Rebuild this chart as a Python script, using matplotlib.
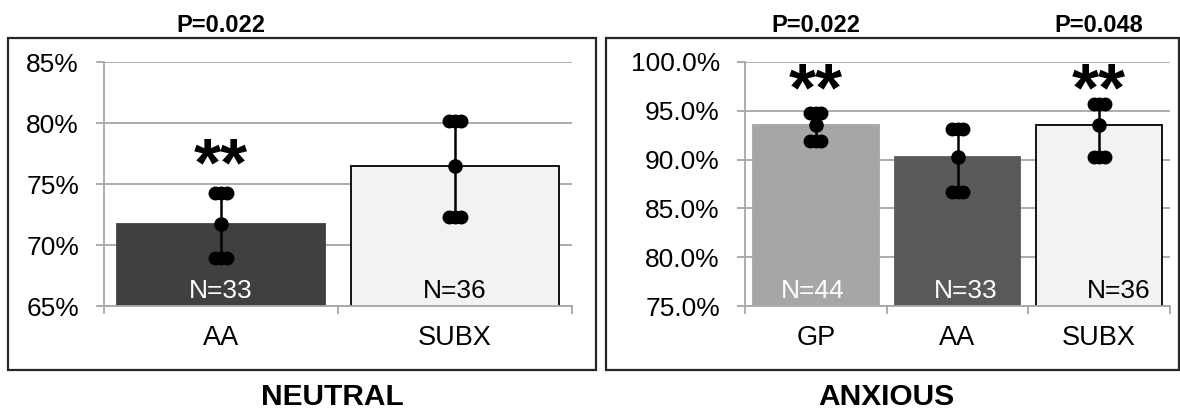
import numpy as np
import matplotlib
matplotlib.use("Agg")
import matplotlib.pyplot as plt
from matplotlib.patches import Rectangle
from matplotlib.ticker import FuncFormatter, FixedLocator
from matplotlib.transforms import ScaledTranslation, blended_transform_factory

# --- data ---
neutral_groups = ["AA", "SUBX"]
neutral_means = [71.7, 76.5]
neutral_lo = [68.9, 72.3]
neutral_hi = [74.3, 80.2]
neutral_n = [33, 36]
neutral_stars = ["**", ""]
neutral_p = ["P=0.022", ""]

anxious_groups = ["GP", "AA", "SUBX"]
anxious_means = [93.5, 90.3, 93.5]
anxious_lo = [91.9, 86.7, 90.3]
anxious_hi = [94.8, 93.1, 95.7]
anxious_n = [44, 33, 36]
anxious_stars = ["**", "", "**"]
anxious_p = ["P=0.022", "", "P=0.048"]

neutral_ticks = [65, 70, 75, 80, 85]
anxious_ticks = [75, 80, 85, 90, 95, 100]

plt.rcParams["font.family"] = ["Liberation Sans", "DejaVu Sans"]

W, H = 1180, 415
fig = plt.figure(figsize=(W / 100, H / 100), dpi=100)


def px_box(x0, x1, y0, y1):
    # pixel box (top-left origin) -> figure fraction rect
    return [x0 / W, 1 - y1 / H, (x1 - x0) / W, (y1 - y0) / H]


def draw_panel(ax, groups, means, lo, hi, ns, stars, pvals, ticks, fmt,
               colors, edges, ncolors, star_y, n_shift):
    x = np.arange(len(groups))
    grid_c = "#a6a6a6"
    ax.set_xlim(-0.5, len(groups) - 0.5)
    ax.set_ylim(ticks[0], ticks[-1])
    ax.set_axisbelow(True)
    ax.yaxis.grid(True, color=grid_c, lw=1.3)

    ax.bar(x, means, width=0.885, color=colors, edgecolor=edges, linewidth=1.3,
           zorder=2)

    # error bars: line + dot at mean + pill-like caps made of dots
    ax.vlines(x, lo, hi, color="black", lw=1.8, zorder=3)
    ax.plot(x, means, "o", color="black", ms=9.5, zorder=4)
    for off in (-4.0, 0.0, 4.0):
        tr = ax.transData + ScaledTranslation(off / 72, 0, fig.dpi_scale_trans)
        ax.plot(x, lo, "o", color="black", ms=9, transform=tr, zorder=4)
        ax.plot(x, hi, "o", color="black", ms=9, transform=tr, zorder=4)

    bt = blended_transform_factory(ax.transData, ax.transAxes)
    for i in x:
        ntr = bt + ScaledTranslation(n_shift[i] / 72, 0, fig.dpi_scale_trans)
        ax.text(i, 0.06, f"N={ns[i]}", transform=ntr, ha="center", va="center",
                fontsize=19, color=ncolors[i], zorder=5)
        if stars[i]:
            ax.text(i, star_y, stars[i], ha="center", va="center",
                    fontsize=50, fontweight="bold", zorder=5)
        if pvals[i]:
            ax.text(i, 1.15, pvals[i], transform=bt, ha="center", va="center",
                    fontsize=17, fontweight="bold", clip_on=False)

    for s in ("top", "right"):
        ax.spines[s].set_visible(False)
    for s in ("left", "bottom"):
        ax.spines[s].set_color(grid_c)
        ax.spines[s].set_linewidth(1.3)

    ax.set_yticks(ticks)
    ax.yaxis.set_major_formatter(FuncFormatter(fmt))
    ax.tick_params(axis="y", length=6, width=1.3, color=grid_c, labelsize=19,
                   pad=12)
    ax.set_xticks(x)
    ax.set_xticklabels(groups)
    ax.xaxis.set_minor_locator(FixedLocator(np.arange(len(groups) + 1) - 0.5))
    ax.tick_params(axis="x", which="major", length=0, labelsize=19.5, pad=14)
    ax.tick_params(axis="x", which="minor", length=6, width=1.3, color=grid_c)


axL = fig.add_axes(px_box(104, 572, 62, 306))
axR = fig.add_axes(px_box(745, 1170, 62, 306))

draw_panel(axL, neutral_groups, neutral_means, neutral_lo, neutral_hi,
           neutral_n, neutral_stars, neutral_p, neutral_ticks,
           lambda v, p: f"{v:.0f}%",
           ["#404040", "#f2f2f2"], ["#404040", "black"], ["white", "black"],
           star_y=76.4, n_shift=[0, 0])
draw_panel(axR, anxious_groups, anxious_means, anxious_lo, anxious_hi,
           anxious_n, anxious_stars, anxious_p, anxious_ticks,
           lambda v, p: f"{v:.1f}%",
           ["#a6a6a6", "#595959", "#f2f2f2"], ["#a6a6a6", "#595959", "black"],
           ["white", "white", "black"], star_y=96.9, n_shift=[-2, 6, 14])

# panel frames
for x0, x1 in ((8, 596), (606, 1179)):
    fig.add_artist(Rectangle((x0 / W, 1 - 370 / H), (x1 - x0) / W, 332 / H,
                             transform=fig.transFigure, fill=False,
                             ec="#262626", lw=1.6))

fig.text(332 / W, 1 - 397 / H, "NEUTRAL", ha="center", va="center",
         fontsize=21.5, fontweight="bold")
fig.text(886 / W, 1 - 397 / H, "ANXIOUS", ha="center", va="center",
         fontsize=21.5, fontweight="bold")

fig.savefig("out.png", dpi=100)
